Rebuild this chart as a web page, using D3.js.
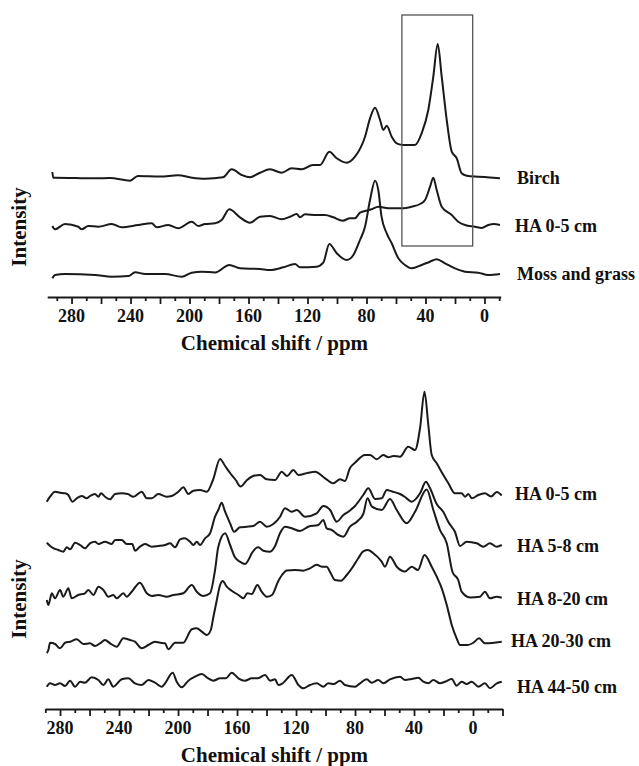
<!DOCTYPE html>
<html>
<head>
<meta charset="utf-8">
<script src="https://cdn.jsdelivr.net/npm/d3@7"></script>
<style>
  body { margin: 0; background: #fff; }
  text { font-family: "Liberation Serif", "Times New Roman", serif; font-weight: bold; fill: #111; }
</style>
</head>
<body>
<div id="chart"></div>
<script>
var width = 639;
var height = 766;

// tick labels (ppm), same on both panels
var tickLabels = [280, 240, 200, 160, 120, 80, 40, 0];

// ---- top panel: plant material vs. HA 0-5 cm ----
var topNames = ["Birch", "HA 0-5 cm", "Moss and grass"];
var topOffsets = [119, 72, 22.5];   // stacking offset of each trace (a.u.)
var topLabelDy = [6.3, 7.3, 5.5];

// [ppm, intensity]
var birch = [[293,6],[292.4,0.3],[291.2,0.3],[264,-0.3],[254,0],[240.3,-2.7],[235,2],[220,1.5],[207.8,2.7],[198.3,0.3],[189.5,-0.7],[177.3,0.7],[171.4,8.7],[164.6,3],[159,0.7],[152.2,5.3],[145.4,8.7],[137.5,5.3],[130.7,9.7],[123.9,8.7],[116.3,13],[111.5,13],[105.2,26.3],[100.2,19.7],[93.4,15.3],[87.8,21.3],[81,41.3],[77.6,59.7],[74.2,70.3],[70.8,58],[68.6,48],[66.3,52.3],[62.9,41.3],[59.5,34.7],[55,33],[47.1,33],[42.6,44.7],[38.1,68],[34.7,101.3],[31.7,134],[29,101.3],[25.6,58],[22.2,26.3],[18.8,19.7],[15.5,4.7],[12.1,2.3],[4.2,1.3],[-3.7,0.5],[-10.5,-0.3]];
var haTop = [[293,-1],[291.2,-4.3],[284.4,1],[275.4,-1.7],[273.1,-4.3],[268.6,-1],[261.8,-1.7],[252.7,1],[246,-2.3],[234.7,0],[225.6,1.7],[222.2,-2.3],[214.4,0],[207.6,-3.3],[198.5,3.3],[194,-1],[189.5,1],[182.7,1.7],[178.2,5],[173,15.7],[165.8,7.7],[159,2.3],[152.2,8.3],[145.4,9],[137.5,5.7],[131.9,8.3],[127.3,11],[125.1,7.7],[121.7,10.7],[113.8,10],[108.1,10],[102.5,7.7],[96.1,4.3],[91.2,6.7],[87.8,6.7],[84.4,12.3],[76.5,15.7],[72,18.3],[65.2,16.7],[56.1,16.7],[49.4,18.3],[43.7,21],[40.3,25],[36.9,38.3],[34.7,47.3],[32.4,35],[29,18.3],[22.2,10],[17.8,3.3],[13.2,0],[6.4,-1.7],[1.9,-3],[-2.6,0],[-6.4,1],[-10.5,0]];
var moss = [[293,-3.8],[291.2,-0.5],[284.4,0.5],[264,-0.5],[252.7,-2.2],[241.4,-1.5],[236.9,2.2],[230.1,0.5],[216.6,0.5],[205.3,-2.2],[198.5,1.8],[191.7,2.8],[182.7,2],[173,9.5],[165.8,6.2],[152.2,5.5],[145.4,4.5],[136.4,7.2],[128.5,10.5],[125.1,7.2],[113.8,7.8],[109.3,11.8],[105.2,30.5],[100.2,21.2],[93.4,14.5],[88.9,19.5],[84.4,34.5],[81,47.8],[77.6,74.5],[74.2,93.8],[72,84.5],[69.8,57.8],[66.3,41.2],[62.9,31.2],[58.4,16.2],[53.9,9.5],[49.4,6.2],[42.6,9.5],[37,12.8],[32.4,15.2],[26.8,11.2],[20,6.2],[13.2,2.8],[4.2,1.8],[-2.6,-0.5],[-10.5,0.5]];
var topSeries = [birch, haTop, moss];

// highlighted aliphatic region
var boxPpm = [56, 8];
var boxLevels = [282, 51];

// ---- bottom panel: HA by depth ----
var botNames = ["HA 0-5 cm", "HA 5-8 cm", "HA 8-20 cm", "HA 20-30 cm", "HA 44-50 cm"];
var botOffsets = [213.5, 164, 112, 66, 26];
var botLabelDy = [4.5, 6.7, 8, 4.3, 10];

var ha05 = [[289,-6.2],[286.8,-1.2],[283.4,3.8],[280,2.8],[276.6,2.2],[274.4,0.5],[271.7,-6.2],[268.7,-2.8],[265.3,-0.5],[261.9,-2.8],[259.7,-0.5],[256.3,1.5],[254,-1.2],[252.2,2.2],[249.5,-1.2],[246.1,-3.8],[242.7,1.5],[238.2,2.2],[234.1,1.5],[230.3,-1.2],[224.6,3.8],[221.2,-2.8],[217.8,-2.8],[213.4,1.5],[207.7,-1.2],[204.3,-0.5],[199.8,3.8],[196.4,8.2],[193,1.5],[189.6,4.8],[185.1,5.5],[180.5,3.8],[176.3,15.5],[171.5,36.5],[168.1,29.5],[164.2,21.5],[160.9,15.5],[157.6,9],[153.2,15.5],[149,19.5],[144.4,20.5],[139.9,16.2],[134.2,15.5],[129.7,23.8],[126.1,19.5],[121.8,25.5],[118.4,20.5],[111.7,22.8],[107.1,23.8],[100.3,17.2],[94.7,12.2],[90.2,16.2],[86.8,14.5],[83.4,27.5],[80,32.8],[73.2,40.5],[69.8,40.5],[65.3,36.2],[60.8,40.5],[57.4,38.2],[54,39.5],[49.5,38.8],[43.9,48.8],[39.3,45.5],[35.9,67.5],[32.9,103.8],[30.3,70.5],[28,40.5],[24.6,32.2],[20.1,20.5],[16.7,12.2],[12.2,2.2],[7.7,2.2],[5.4,-1.2],[3.2,1.5],[0.7,-2.8],[-3.6,0.5],[-8.1,2.2],[-12.2,-1],[-16.1,3.5],[-19.5,0]];
var ha58 = [[289,2.3],[285.6,-2.3],[281.2,-5],[277.8,-6.7],[275.5,-2.3],[273.2,-4.3],[269.8,2.3],[266.4,0],[263.1,-3.3],[259.7,1.7],[256.3,3.3],[254,1],[249.5,3.3],[245,1],[242.7,5],[238.2,5],[234.8,1],[231,1],[229.2,-5.7],[225.8,-1.7],[222.4,1],[217.8,-1.7],[213.4,-1],[208.8,0],[205.4,1.7],[202,-2.3],[198.6,5.7],[195.3,6.7],[191.9,3.3],[189.6,0],[187.3,3.3],[185.1,0],[181.7,6.7],[178.3,11.7],[174.9,28.3],[172.7,35],[170.4,42.3],[168.1,33.3],[164.7,21.7],[162,13.3],[158,17.7],[153.4,18.3],[149,19],[144.4,23.3],[139.9,18.3],[135.4,21],[130.8,28.3],[127.5,36.7],[122.9,33.3],[119.5,35],[113.9,28.3],[106,31.7],[101.5,39],[96.9,35],[92.4,23.3],[87.9,30],[84.5,33.3],[80,39],[74.4,50],[71,56.7],[66.4,46],[61.9,46.7],[58.5,55],[54.9,53.5],[49.5,51],[46.1,48],[41.6,43.3],[35.9,51.7],[31.9,63.3],[29.2,57],[24.6,41],[20.1,33],[16.7,23],[12.2,13],[8.8,-1],[4.3,3.3],[-2.5,1.7],[-7,-1.7],[-11.5,1.7],[-16.1,-1.7],[-19.5,0]];
var ha820 = [[289,-3],[287.9,-8],[285.6,3.7],[283.4,-1.3],[280,7],[277.8,0.3],[274.4,8.7],[272.1,-1.3],[267.6,2],[263.1,3.7],[260.8,7],[257.4,2],[254,10.3],[250.6,7],[247.3,0.3],[243.9,2],[241.6,-1.3],[237.1,3.7],[234.8,0.3],[231.4,5.3],[225.8,14.3],[221.2,3.7],[217.8,1],[213.4,2],[207.7,0.3],[203.2,2],[196.4,3.7],[190.7,12],[187.3,5.3],[182.8,1],[178.3,3.7],[174.9,27],[172.7,50.3],[168.1,63.7],[164.7,52],[161.4,39.7],[158,35.3],[154.6,33],[152.3,37],[150,43.7],[145.6,49.7],[142.2,46.3],[137.6,45.3],[134.2,51],[130.8,64],[127.5,70.3],[122.9,68.7],[117.3,66],[111.7,70.3],[104.9,72],[101.5,77],[99.2,68.7],[95.8,67],[91.3,62],[87.9,60.3],[83.4,70.3],[78.8,75.3],[74.4,83],[71.5,98.7],[68.5,90.3],[61.9,87],[56.3,98],[51.7,87],[45,73.7],[39.3,85.3],[31.4,107.5],[26.9,87],[22.4,67],[17.8,53.7],[13.9,25],[10,17],[7.7,5.3],[2,-0.5],[-4.7,0.3],[-8.1,5.3],[-11.5,-1.3],[-16.1,0.3],[-19.5,-0.7]];
var ha2030 = [[289,-10],[287.9,-7],[286.8,0.3],[283.4,-1],[280,-5.3],[276.6,0.3],[273.2,1.3],[268.7,3.7],[264.2,-1],[259.7,-0.3],[256.3,-3],[252.9,-0.3],[249.5,3],[246.1,-0.3],[241.6,-3.7],[237.1,4.7],[232.5,3],[229.2,1.3],[224.6,-5.3],[220.1,-2],[215.6,1.3],[212.2,0.3],[208.8,-0.3],[206.6,-6.3],[202,0.3],[196.4,0.3],[190.7,13.7],[187.3,14.7],[183.9,11.3],[180.5,8],[177.8,13],[176,26.3],[173.7,43],[171.5,58],[169.7,62],[167,56.3],[163.6,52.3],[159.1,48],[155.7,44.7],[153,49.7],[150,49],[146.2,58],[143.3,51.3],[139.9,46.3],[136.3,48],[132,62],[129.5,68],[126.3,72.5],[120.7,73],[115.1,72.3],[110.5,74.7],[106,78.3],[102.6,76.3],[99.2,76.3],[97,71.3],[93.6,63],[89.5,62.3],[85.6,68],[82,75],[77.8,84.7],[74.4,91.7],[71.2,93],[67.8,90],[61.9,81.3],[59.7,76.3],[56.3,86.3],[51.7,76.3],[46.1,71.5],[41.6,76.3],[37.3,73],[32.9,88],[28,76.3],[24.6,66.3],[21.2,54.7],[17.8,38],[14.4,18],[11.1,4.7],[8.8,-2],[3.7,-2],[0,0],[-4.1,4.7],[-8.1,-0.3],[-12.9,0],[-19.5,1.3]];
var ha4450 = [[289,-3.7],[286.8,-0.3],[283.4,-2],[280,-0.3],[276.6,-3],[273.2,2.3],[269.8,-3.7],[266.4,1.3],[263.1,0.3],[258.5,5.7],[254,3],[250.6,-2],[247.3,3.7],[243.9,-3.7],[238.2,3.7],[233.7,4.7],[229.2,-0.3],[224.6,-2],[220.1,3],[215.6,0.3],[211.1,-3.7],[208.8,-0.3],[203.6,10.3],[200.9,1.3],[197.5,-4.3],[193,2.3],[188.5,6.3],[183.9,9],[179.5,4.7],[176.1,2.3],[171.5,4.7],[167.5,4.7],[163.6,10.3],[159.1,4.7],[154.6,2.3],[150,4.7],[145.8,4.7],[141,8],[137.6,2.3],[134.2,3.7],[132,-2],[128.8,0],[122.9,8],[118.4,-2],[115.1,-5.3],[110.5,-2],[106,-0.3],[101.5,-3.7],[98.1,-0.3],[94.2,-1],[90.2,2.3],[86.8,-2],[80,-3.7],[76.6,-0.3],[72.1,3.7],[68.7,0.3],[64.2,3],[60.8,-0.3],[56.3,3.7],[49.5,6.3],[46.1,3],[41.6,4],[37.1,5.3],[33.7,1.3],[30.3,-0.3],[26.9,3],[22.4,-0.3],[19,1.3],[14.4,4],[11.1,-2.7],[7.7,1.3],[4.3,-1],[0.9,1.3],[-3.6,-3.7],[-8.1,-0.3],[-11.5,-5.3],[-16.1,-0.3],[-19.5,1.3]];
var botSeries = [ha05, ha58, ha820, ha2030, ha4450];

var svg = d3.select("#chart")
  .append("svg")
  .attr("width", width)
  .attr("height", height);

function drawPanel(opt) {
  var x = d3.scaleLinear().domain(opt.ppmDomain).range(opt.xRange);
  var y = d3.scaleLinear().domain([0, 300]).range([opt.axisY, opt.axisY - 300]);
  var g = svg.append("g");

  var line = d3.line()
    .x(function(d) { return x(d[0]); })
    .y(function(d) { return y(d[1] + d.off); })
    .curve(d3.curveMonotoneX);

  opt.series.forEach(function(s, i) {
    var pts = s.map(function(p) { var q = [p[0], p[1]]; q.off = opt.offsets[i]; return q; });
    g.append("path")
      .attr("d", line(pts))
      .attr("fill", "none")
      .attr("stroke", "#1a1a1a")
      .attr("stroke-width", 2)
      .attr("stroke-linejoin", "round");

    g.append("text")
      .attr("x", opt.labelX[i])
      .attr("y", y(opt.offsets[i]) + opt.labelDy[i])
      .style("font-size", "18px")
      .text(opt.names[i]);
  });

  if (opt.box) {
    g.append("rect")
      .attr("x", x(opt.box[0]))
      .attr("y", y(opt.boxLevels[0]))
      .attr("width", x(opt.box[1]) - x(opt.box[0]))
      .attr("height", y(opt.boxLevels[1]) - y(opt.boxLevels[0]))
      .attr("fill", "none")
      .attr("stroke", "#555")
      .attr("stroke-width", 1.3);
  }

  // axis: ticks every 10 ppm, longer every 20, labels every 40
  var tv = d3.range(290, opt.ppmDomain[1] - 1, -10);
  var axis = d3.axisBottom(x).tickValues(tv).tickSizeOuter(0).tickFormat("");
  var ag = g.append("g")
    .attr("transform", "translate(0," + opt.axisY + ")")
    .call(axis);
  ag.select(".domain").attr("stroke", "#1a1a1a").attr("stroke-width", 2);
  ag.selectAll(".tick line")
    .attr("stroke", "#1a1a1a")
    .attr("stroke-width", 1.8)
    .attr("y2", function(d) { return d % 20 === 0 ? 7 : 4; });

  g.selectAll(".tlab")
    .data(tickLabels)
    .enter().append("text")
    .attr("x", function(d) { return x(d); })
    .attr("y", opt.axisY + 25)
    .attr("text-anchor", "middle")
    .style("font-size", "18px")
    .text(function(d) { return d; });

  g.append("text")
    .attr("x", 274.5)
    .attr("y", opt.axisY + 53)
    .attr("text-anchor", "middle")
    .style("font-size", "21px")
    .text("Chemical shift / ppm");

  g.append("text")
    .attr("transform", "translate(26," + opt.intensityY + ") rotate(-90)")
    .attr("text-anchor", "middle")
    .style("font-size", "21px")
    .text("Intensity");
}

drawPanel({
  ppmDomain: [296.5, -11],
  xRange: [47.2, 500.7],
  axisY: 297,
  series: topSeries,
  offsets: topOffsets,
  names: topNames,
  labelX: [517, 515, 517],
  labelDy: topLabelDy,
  box: boxPpm,
  boxLevels: boxLevels,
  intensityY: 227
});

drawPanel({
  ppmDomain: [290, -20],
  xRange: [45.3, 502.5],
  axisY: 709,
  series: botSeries,
  offsets: botOffsets,
  names: botNames,
  labelX: [515, 517, 517, 511, 517],
  labelDy: botLabelDy,
  box: null,
  intensityY: 599
});
</script>
</body>
</html>
